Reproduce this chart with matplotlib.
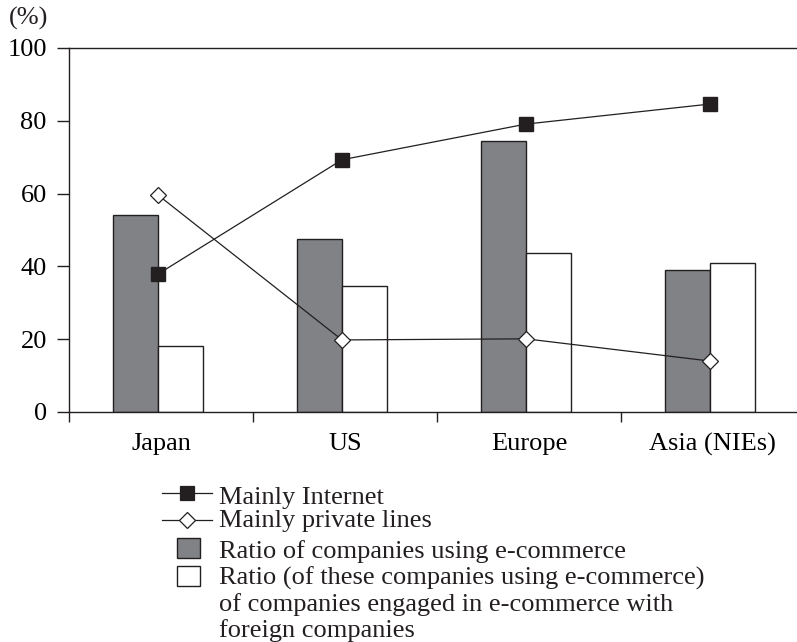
import matplotlib
matplotlib.use("Agg")
import matplotlib.pyplot as plt
from matplotlib.lines import Line2D
from matplotlib.patches import Rectangle
import numpy as np

plt.rcParams['font.family'] = ['Liberation Serif', 'DejaVu Serif']

# Data
regions = ["Japan", "US", "Europe", "Asia (NIEs)"]
ecommerce_ratio = [54.0, 47.5, 74.5, 39.0]
foreign_ratio = [18.0, 34.7, 43.8, 41.0]
mainly_internet = [37.9, 69.3, 79.1, 84.6]
mainly_private = [59.6, 19.8, 20.1, 14.0]
yticks = [0, 20, 40, 60, 80, 100]

legend_lines = [
    "Mainly Internet",
    "Mainly private lines",
    "Ratio of companies using e-commerce",
    "Ratio (of these companies using e-commerce)",
    "of companies engaged in e-commerce with",
    "foreign companies",
]

INK = "#231f20"
GREY = "#808285"
FS = 19

W, H = 797, 642
fig = plt.figure(figsize=(W / 100, H / 100), dpi=100)
ax = fig.add_axes([69 / W, 1 - 412 / H, (W - 69) / W, (412 - 48) / H])

x = np.arange(len(regions))
bw = 0.247

ax.bar(x - bw / 2, ecommerce_ratio, width=bw, color=GREY, edgecolor=INK,
       linewidth=1.0, zorder=2)
ax.bar(x + bw / 2, foreign_ratio, width=bw, color="white", edgecolor=INK,
       linewidth=1.0, zorder=2)

ax.plot(x, mainly_internet, color=INK, linewidth=0.9, marker="s",
        markersize=9.5, markerfacecolor=INK, markeredgecolor=INK, zorder=4)
ax.plot(x, mainly_private, color=INK, linewidth=0.9, marker="D",
        markersize=8.5, markerfacecolor="white", markeredgecolor=INK,
        markeredgewidth=0.9, zorder=4)

ax.set_xlim(-0.484, 3.473)
ax.set_ylim(0, 100)

# Category boundaries as outward ticks, names centred between them
ax.set_xticks(np.arange(4) - 0.484)
ax.set_xticklabels([])
ax.set_xticks(x + 0.016, minor=True)
ax.set_xticklabels(regions, minor=True, fontsize=FS)
ax.tick_params(axis="x", which="major", direction="out", length=7,
               width=1.0, color=INK)
ax.tick_params(axis="x", which="minor", length=0, pad=15)

ax.set_yticks(yticks)
ax.set_yticklabels([str(v) for v in yticks], fontsize=FS)
ax.tick_params(axis="y", direction="out", length=9, width=1.0, color=INK,
               pad=7)

for side in ("left", "top", "bottom"):
    ax.spines[side].set_color(INK)
    ax.spines[side].set_linewidth(1.0)
ax.spines["right"].set_visible(False)

fig.text(9 / W, 1 - 25 / H, "(%)", fontsize=FS, ha="left", va="baseline",
         color=INK)


def fx(px):
    return px / W


def fy(py):
    return 1 - py / H


# Legend drawn row by row
row_y = [493, 520]
for yy, mk, face in zip(row_y, ["s", "D"], [INK, "white"]):
    fig.add_artist(Line2D([fx(162), fx(212)], [fy(yy), fy(yy)],
                          transform=fig.transFigure, color=INK, linewidth=0.9))
    fig.add_artist(Line2D([fx(187)], [fy(yy)], transform=fig.transFigure,
                          marker=mk, markersize=9.5 if mk == "s" else 8.5,
                          markerfacecolor=face, markeredgecolor=INK,
                          markeredgewidth=0.9, linestyle="none"))

for yc, face in zip([548, 576], [GREY, "white"]):
    fig.add_artist(Rectangle((fx(177), fy(yc + 10)), (200 - 177) / W, 20 / H,
                             transform=fig.transFigure, facecolor=face,
                             edgecolor=INK, linewidth=1.0))

baselines = [504, 527, 558, 585, 611, 637]
for bl, lab in zip(baselines, legend_lines):
    fig.text(fx(219), fy(bl), lab, fontsize=FS, ha="left", va="baseline",
             color=INK)

fig.savefig("out.png", dpi=100)
